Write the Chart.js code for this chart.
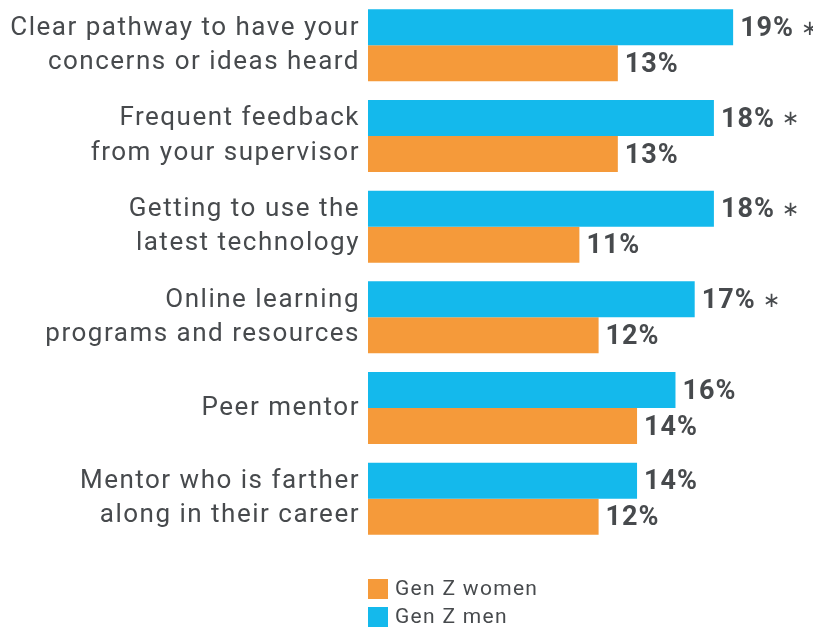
<!DOCTYPE html>
<html>
<head>
<meta charset="utf-8">
<script src="https://cdn.jsdelivr.net/npm/chart.js@4"></script>
<style>
  body { margin: 0; background: #fff; }
  #wrap { width: 813px; height: 630px; position: relative; }
</style>
</head>
<body>
<div id="wrap"><canvas id="chart"></canvas></div>
<script>
const categories = [
  ['Clear pathway to have your', 'concerns or ideas heard'],
  ['Frequent feedback', 'from your supervisor'],
  ['Getting to use the', 'latest technology'],
  ['Online learning', 'programs and resources'],
  ['Peer mentor'],
  ['Mentor who is farther', 'along in their career']
];
const menValues = [19, 18, 18, 17, 16, 14];
const womenValues = [13, 13, 11, 12, 14, 12];
const significant = [true, true, true, true, false, false];

const textColor = '#474a4d';
const blue = '#14b9ec';
const orange = '#f59a3a';

// the source font is tracked out a little, canvas can do that
const spacing = {
  id: 'spacing',
  beforeDraw(chart) { chart.ctx.letterSpacing = '1.5px'; }
};

// draws the % labels at the end of each bar
const valueLabels = {
  id: 'valueLabels',
  afterDatasetsDraw(chart) {
    const ctx = chart.ctx;
    ctx.save();
    ctx.letterSpacing = '1px';
    ctx.fillStyle = textColor;
    ctx.textBaseline = 'middle';
    chart.data.datasets.forEach((ds, i) => {
      chart.getDatasetMeta(i).data.forEach((bar, j) => {
        const txt = ds.data[j] + '%';
        ctx.font = 'bold 27px Roboto';
        ctx.fillText(txt, bar.x + 7, bar.y + 2);
        if (ds.label === 'Gen Z men' && significant[j]) {
          const w = ctx.measureText(txt).width;
          ctx.font = '21px "DejaVu Sans"';
          ctx.fillText('\u2217', bar.x + 7 + w + 7, bar.y + 2);
        }
      });
    });
    ctx.restore();
  }
};

// legend stacked vertically, women first
const stackedLegend = {
  id: 'stackedLegend',
  afterDraw(chart) {
    const ctx = chart.ctx;
    const x = chart.chartArea.left;
    let y = chart.chartArea.bottom + 35;
    ctx.save();
    ctx.letterSpacing = '1.3px';
    ctx.font = '21px Roboto';
    ctx.textBaseline = 'middle';
    [1, 0].forEach(i => {
      const ds = chart.data.datasets[i];
      ctx.fillStyle = ds.backgroundColor;
      ctx.fillRect(x, y, 20, 20);
      ctx.fillStyle = textColor;
      ctx.fillText(ds.label, x + 27, y + 11);
      y += 28;
    });
    ctx.restore();
  }
};

new Chart(document.getElementById('chart'), {
  type: 'bar',
  data: {
    labels: categories,
    datasets: [
      { label: 'Gen Z men', data: menValues, backgroundColor: blue },
      { label: 'Gen Z women', data: womenValues, backgroundColor: orange }
    ]
  },
  options: {
    indexAxis: 'y',
    responsive: true,
    maintainAspectRatio: false,
    animation: false,
    layout: { padding: { top: 0, right: 3, bottom: 86, left: 0 } },
    datasets: { bar: { barPercentage: 1, categoryPercentage: 0.795 } },
    scales: {
      x: {
        min: 0,
        max: 23,
        display: false
      },
      y: {
        grid: { display: false },
        border: { display: false },
        ticks: {
          color: textColor,
          font: { family: 'Roboto', size: 26, lineHeight: 1.31 },
          padding: 0
        },
        afterFit(scale) {
          scale.width = 368;
          scale.paddingTop = 0;
          scale.paddingBottom = 0;
        }
      }
    },
    plugins: {
      legend: { display: false },
      tooltip: { enabled: false }
    }
  },
  plugins: [spacing, valueLabels, stackedLegend]
});
</script>
</body>
</html>
